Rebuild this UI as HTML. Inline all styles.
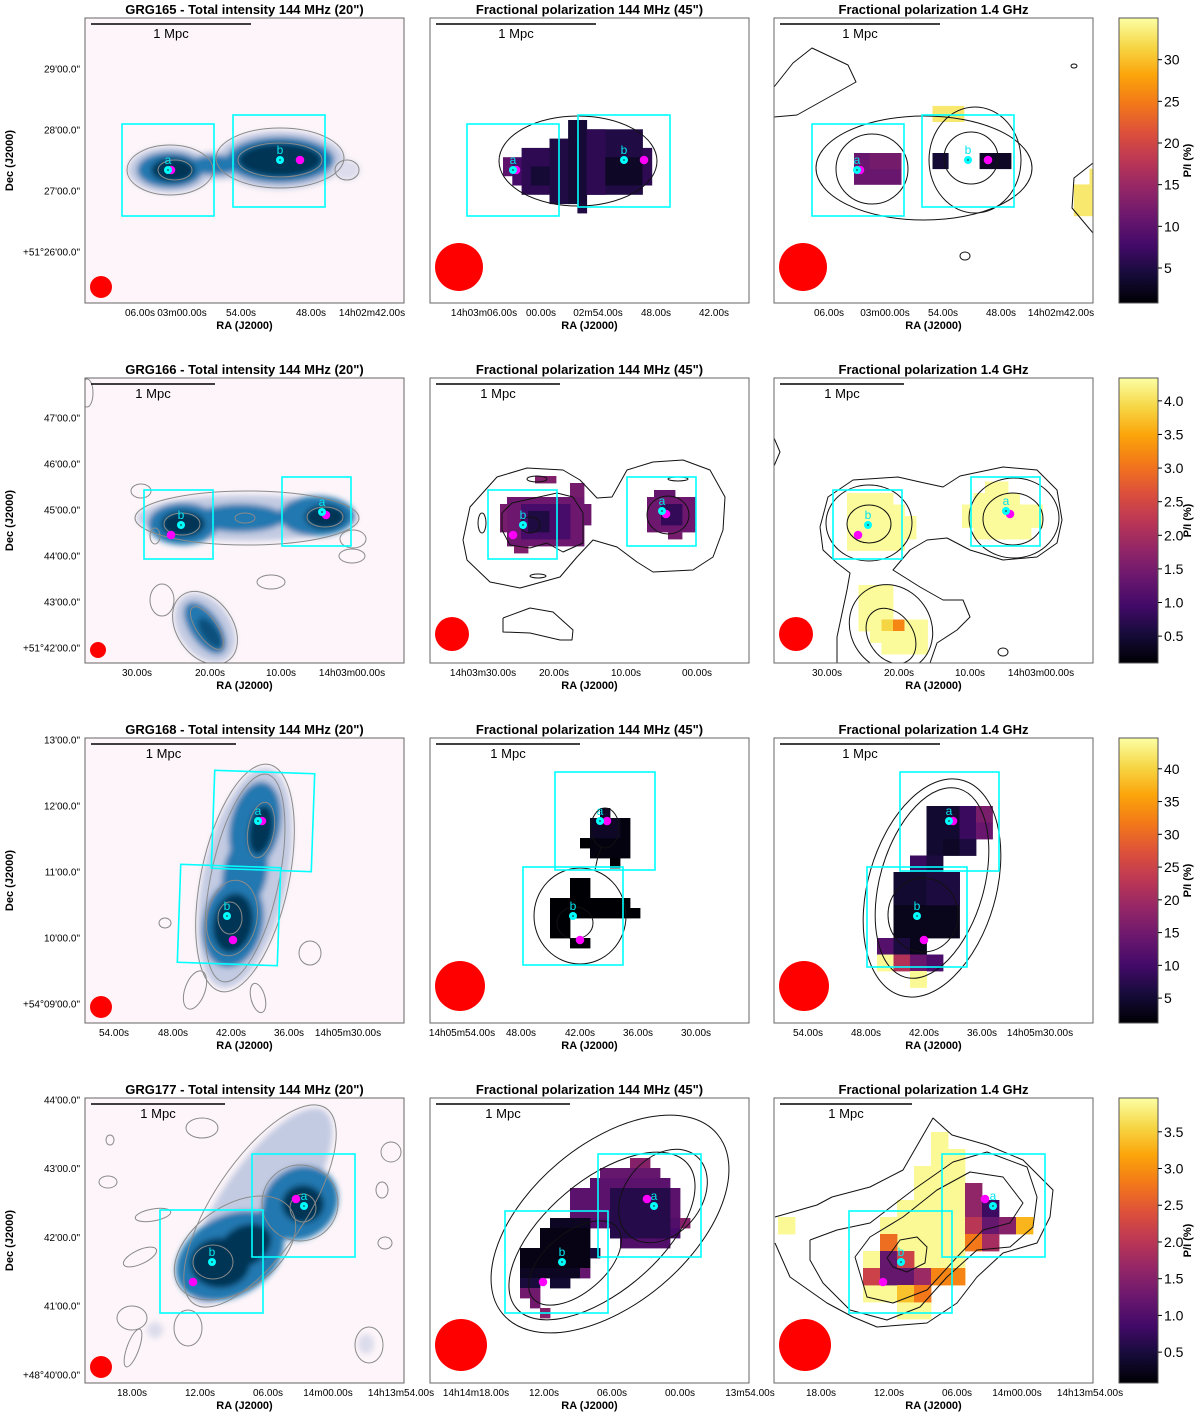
<!DOCTYPE html>
<html><head><meta charset="utf-8"><title>GRG polarization maps</title>
<style>
html,body{margin:0;padding:0;background:#fff;}
svg{display:block;font-family:"Liberation Sans","DejaVu Sans",sans-serif;}
</style></head>
<body>
<svg id="fig" xmlns="http://www.w3.org/2000/svg" width="1200" height="1417" viewBox="0 0 1200 1417">
<defs>
<filter id="blur" x="-30%" y="-30%" width="160%" height="160%"><feGaussianBlur stdDeviation="3"/></filter>
<linearGradient id="infernoGrad" x1="0" y1="1" x2="0" y2="0">
<stop offset="0" stop-color="#000004"/><stop offset="0.1" stop-color="#160b39"/><stop offset="0.2" stop-color="#420a68"/>
<stop offset="0.3" stop-color="#6a176e"/><stop offset="0.4" stop-color="#932667"/><stop offset="0.5" stop-color="#bc3754"/>
<stop offset="0.6" stop-color="#dd513a"/><stop offset="0.7" stop-color="#f37819"/><stop offset="0.8" stop-color="#fca50a"/>
<stop offset="0.9" stop-color="#f6d746"/><stop offset="1" stop-color="#fcffa4"/>
</linearGradient>
</defs>
</svg>
<script>
// ---------- data ----------
const galaxyNames = ['GRG165','GRG166','GRG168','GRG177'];
const panelTitles = ['Total intensity 144 MHz (20")','Fractional polarization 144 MHz (45")','Fractional polarization 1.4 GHz'];
const decLabels = [
  ['29\'00.0"','28\'00.0"','27\'00.0"','+51°26\'00.0"'],
  ['47\'00.0"','46\'00.0"','45\'00.0"','44\'00.0"','43\'00.0"','+51°42\'00.0"'],
  ['13\'00.0"','12\'00.0"','11\'00.0"','10\'00.0"','+54°09\'00.0"'],
  ['44\'00.0"','43\'00.0"','42\'00.0"','41\'00.0"','+48°40\'00.0"']
];
const raLabels = [
  [['06.00s','03m00.00s','54.00s','48.00s','14h02m42.00s'],['14h03m06.00s','00.00s','02m54.00s','48.00s','42.00s'],['06.00s','03m00.00s','54.00s','48.00s','14h02m42.00s']],
  [['30.00s','20.00s','10.00s','14h03m00.00s'],['14h03m30.00s','20.00s','10.00s','00.00s'],['30.00s','20.00s','10.00s','14h03m00.00s']],
  [['54.00s','48.00s','42.00s','36.00s','14h05m30.00s'],['14h05m54.00s','48.00s','42.00s','36.00s','30.00s'],['54.00s','48.00s','42.00s','36.00s','14h05m30.00s']],
  [['18.00s','12.00s','06.00s','14m00.00s','14h13m54.00s'],['14h14m18.00s','12.00s','06.00s','00.00s','13m54.00s'],['18.00s','12.00s','06.00s','14m00.00s','14h13m54.00s']]
];
const cbTicks = [[5,10,15,20,25,30],[0.5,1.0,1.5,2.0,2.5,3.0,3.5,4.0],[5,10,15,20,25,30,35,40],[0.5,1.0,1.5,2.0,2.5,3.0,3.5]];
const cbMin = [0.8,0.1,1.2,0.08];
const cbMax = [35.0,4.34,44.7,3.96];
// heatmap blocks: [col0,row0,col1,row1,value]
const heat_r1p2 = [[0,4,0,5,10],[1,4,1,6,8],[2,3,4,7,6],[5,2,6,8,5],[7,0,8,8,4],[8,9,8,9,5],[9,1,14,7,5],[9,1,10,7,6],[11,4,14,6,3],[15,3,15,6,6],[3,5,4,6,4]];
const heat_r1p3 = [[0,0,2,1,11],[1,0,2,0,12],[5,0,5,0,4],[8,0,9,0,3],[5,-3,6,-3,33],[15,1,15,3,33],[14,2,14,3,33]];
const heat_r2p2 = [[11,17,21,23,1.4],[10,18,10,21,1.5],[13,18,19,22,1.0],[14,19,16,21,0.6],[12,24,13,24,1.6],[20,15,21,16,1.5],[22,18,22,20,1.4],[15,14,17,14,1.6],[31,17,37,21,1.4],[33,18,35,20,0.8],[34,22,35,22,1.5],[32,16,34,16,1.3]];
const heat_r2p3 = [[6,10,9,14,4.3],[10,11,10,14,4.3],[11,12,11,13,4.3],[18,9,19,9,4.3],[17,10,20,10,4.3],[16,11,22,12,4.3],[17,13,21,13,4.3],[7,18,9,20,4.3],[7,21,8,21,4.3],[9,21,9,21,3.9],[10,21,10,21,3.2],[11,21,12,21,4.3],[8,22,12,22,4.3],[9,23,12,23,4.3]];
const heat_r3p2 = [[17,7,17,7,4],[16,8,19,11,2],[16,8,18,9,4],[15,10,15,10,1.3],[18,12,18,12,1.2],[14,14,15,15,1.2],[12,16,19,17,1.2],[20,17,20,17,1.2],[12,18,13,19,1.2],[14,20,15,20,1.2]];
const heat_r3p3 = [[9,4,10,5,5],[11,4,11,5,9],[12,4,12,4,16],[12,5,12,5,14],[9,6,9,6,5],[10,6,10,6,4],[11,6,11,6,6],[8,7,8,7,9],[9,7,9,7,6],[7,8,10,9,5],[7,10,10,11,3],[9,8,10,9,6],[6,12,6,12,12],[7,12,7,12,6],[8,12,8,12,3],[6,13,6,13,44],[7,13,7,13,22],[8,13,8,13,14],[9,13,9,13,11],[8,14,8,14,44]];
const heat_r4p2 = [[20,6,21,6,1.5],[17,7,22,7,1.2],[16,8,23,8,1.1],[14,9,24,11,1.1],[16,12,24,12,1.0],[25,12,25,12,1.5],[18,13,24,13,0.9],[19,14,23,14,1.0],[18,9,23,13,0.6],[12,12,15,12,0.3],[11,13,15,14,0.2],[9,15,15,16,0.2],[16,15,16,15,0.5],[9,17,14,17,0.3],[15,17,15,17,1.2],[9,18,10,18,0.5],[12,18,13,18,0.4],[9,19,10,19,1.3],[10,20,10,20,1.3],[11,21,11,21,1.5]];
const heat_r4p3 = [[9,2,9,2,3.9],[9,3,10,3,3.9],[8,4,10,5,3.9],[7,6,10,6,3.9],[6,7,10,8,3.9],[5,9,10,9,3.9],[5,10,10,10,3.9],[5,11,6,11,3.9],[7,12,8,12,3.9],[0,7,0,7,3.9],
  [11,5,11,6,1.6],[12,6,12,6,0.8],[11,7,11,7,2.0],[12,7,12,7,1.2],[13,7,13,7,1.5],[14,7,14,7,3.3],[11,8,11,8,2.8],[12,8,12,8,1.8],[6,8,6,8,2.7],[6,9,6,9,1.2],[7,9,7,9,2.2],[5,10,5,10,2.2],[6,10,7,10,1.2],[8,10,8,10,1.7],[9,10,10,10,2.9],[7,11,7,11,3.4],[8,11,8,11,2.8]];

// ---------- layout ----------
const rowY = [18,378,738,1098];
const panelX = [85,430,774];
const PW = 319, PH = 285;
const decY0 = [69,418,740,1100];
const decStep = [61,46,66,68.7];
const raX = [
  [[55,97,156,226,287],[54,111,168,226,284],[55,111,169,227,287]],
  [[52,125,196,267],[53,124,196,267],[53,125,196,267]],
  [[29,88,146,204,263],[32,91,150,208,266],[34,92,150,208,266]],
  [[47,115,183,243,316],[46,114,182,250,320],[47,115,183,243,316]]
];
const heatGrid = {r1p2:[73,102,9.3],r1p3:[80,135,15.7],r2p2:[0,0,7],r2p3:[4,0,11.5],r3p2:[0,0,10],r3p3:[4,2,16.5],r4p2:[0,0,10],r4p3:[4,0,17]};
const heatData = {r1p2:heat_r1p2,r1p3:heat_r1p3,r2p2:heat_r2p2,r2p3:heat_r2p3,r3p2:heat_r3p2,r3p3:heat_r3p3,r4p2:heat_r4p2,r4p3:heat_r4p3};

const blobs = [
 [[85,152,42,23,0,1],[130,148,32,14,0,1],[195,142,64,29,0,1],[262,152,13,10,0,0.5],[85,152,33,18,0,2],[130,147,26,10,0,2],[195,142,54,23,0,2],[88,152,22,12,0,3],[195,142,42,17,0,3]],
 [[162,140,110,23,0,1],[98,146,35,21,0,2],[155,140,45,14,0,2],[232,138,38,20,0,2],[98,146,22,13,0,3],[240,139,20,12,0,3],[120,250,38,26,55,1],[120,250,30,15,55,2],[125,255,18,8,55,2.5]],
 [[160,140,42,112,12,1],[170,88,25,45,12,2],[148,185,30,45,12,2],[160,135,22,40,12,2],[176,92,12,25,10,3],[148,185,20,30,10,3]],
 [[175,108,115,40,-56,1],[145,158,58,40,-30,2],[215,105,40,35,-40,2],[178,135,40,20,-40,2],[135,165,30,25,0,3],[218,106,21,19,0,3],[160,148,28,20,-30,3],[70,232,8,8,0,0.5],[281,246,8,10,0,0.5]]
];
const icont = [
 [[85,152,43,25,0],[90,152,17,10,0],[195,140,64,30,0],[195,142,42,17,0],[262,152,12,10,0]],
 [[162,140,112,27,0],[97,146,18,11,0],[240,139,18,10,0],[160,140,10,5,0],[120,250,40,28,55],[122,250,25,10,55],[77,222,12,16,0],[56,113,10,7,0],[268,161,13,9,0],[267,178,13,7,0],[186,204,14,7,0],[70,158,5,8,0],[2,15,6,14,0]],
 [[160,140,44,116,12],[160,140,34,106,12],[176,92,13,28,10],[147,180,25,38,10],[145,180,12,16,0],[80,185,6,5,0],[225,215,11,12,0],[110,252,10,20,20],[173,260,7,15,-15]],
 [[175,108,118,46,-56],[150,150,68,42,-35],[215,105,38,38,0],[128,164,20,17,0],[218,110,13,14,0],[117,30,16,10,0],[25,42,4,5,0],[23,84,9,6,0],[68,117,18,6,-10],[55,159,18,7,-25],[47,220,15,12,0],[103,230,14,18,0],[48,250,6,20,20],[306,54,10,10,0],[297,92,6,8,0],[300,145,7,6,0],[284,247,14,18,0]]
];
const pcontE = {
 r1p2:[[148,143,79,45,0]],
 r1p3:[[150,150,108,52,0],[98,151,36,35,0],[201,142,46,53,0],[197,140,27,26,0],[300,48,3,2,0],[191,238,5,4,0]],
 r2p2:[[238,137,21,19,0],[100,147,10,8,0],[107,101,10,3,0],[52,145,4,10,0],[108,198,8,2,0],[248,101,10,2,0]],
 r2p3:[[95,145,43,38,0],[95,146,22,19,0],[240,140,45,40,0],[239,141,30,26,0],[117,250,40,45,-35],[117,258,22,30,-35],[229,274,5,4,0]],
 r3p2:[[150,178,46,48,0],[145,185,18,16,0],[175,90,14,20,0]],
 r3p3:[[158,150,64,112,16],[158,145,52,98,16],[149,177,35,37,0]],
 r4p2:[[180,126,140,80,-40],[172,138,112,56,-40],[145,165,55,30,-40],[233,98,52,38,-50]],
 r4p3:[]
};
const pcontP = {
 r1p3:[[[0,99],[23,97],[82,64],[74,47],[38,30],[19,45],[0,69]],[[319,145],[300,160],[298,190],[319,215]]],
 r2p2:[[[33,162],[40,129],[67,99],[97,90],[133,92],[150,102],[167,120],[182,119],[197,92],[223,84],[253,82],[280,92],[295,119],[293,152],[283,179],[263,192],[223,194],[207,184],[187,169],[163,162],[147,179],[130,199],[90,210],[60,204],[37,182],[33,162]],
       [[72,135],[82,125],[127,115],[143,119],[153,135],[153,165],[133,174],[117,165],[100,170],[80,167],[72,152],[72,135]],
       [[73,240],[100,230],[123,234],[143,252],[142,262],[130,262],[100,255],[73,254],[73,240]]],
 r2p3:[[[46,149],[54,119],[79,102],[124,99],[146,104],[169,109],[186,98],[229,89],[263,92],[283,112],[288,142],[283,165],[263,179],[229,182],[196,172],[173,160],[153,162],[136,172],[119,192],[146,209],[169,222],[189,222],[196,239],[183,252],[163,265],[156,285]],
       [[63,285],[63,259],[73,212],[76,195],[63,185],[49,172],[46,149]],[[0,60],[6,74],[0,88]]],
 r3p2:[[[165,132],[168,118],[172,108]]],
 r4p3:[[[1,119],[43,107],[58,99],[96,89],[129,72],[159,20],[178,37],[213,47],[249,62],[279,92],[276,119],[263,145],[229,155],[203,179],[183,205],[153,225],[103,229],[79,219],[53,205],[16,179],[1,145]],
       [[36,142],[63,132],[96,125],[139,92],[179,64],[213,54],[253,69],[263,99],[259,129],[236,149],[203,152],[173,179],[146,209],[113,222],[76,212],[49,185],[36,162],[36,142]],
       [[81,159],[96,139],[129,119],[163,92],[196,74],[229,79],[249,105],[236,125],[209,132],[183,159],[153,192],[119,205],[93,199],[81,159]],
       [[113,160],[126,142],[143,139],[153,149],[151,165],[133,174],[119,169],[113,160]]]
};
const boxes = [
 [[[37,106,92,92,0],[148,97,92,92,0]],[[37,106,92,92,0],[148,97,92,92,0]],[[38,106,92,92,0],[148,97,92,92,0]]],
 [[[59,112,69,69,0],[197,99,69,69,0]],[[58,112,69,69,0],[197,99,69,69,0]],[[59,112,69,69,0],[197,99,69,69,0]]],
 [[[128,34,100,98,2],[94,128,100,98,2]],[[125,34,100,98,0],[93,129,100,98,0]],[[126,34,99,99,0],[93,129,100,100,0]]],
 [[[75,112,103,103,0],[167,56,103,103,0]],[[75,113,103,102,0],[168,56,103,103,0]],[[75,113,103,102,0],[168,56,103,103,0]]]
];
const sources = [
 [[['a',83,152,86,152],['b',195,142,215,142]],[['a',83,152,86,152],['b',194,142,214,142]],[['a',83,152,86,152],['b',194,142,214,142]]],
 [[['b',96,147,86,157],['a',237,134,241,137]],[['b',93,147,83,157],['a',232,133,236,136]],[['b',94,147,84,157],['a',232,133,236,136]]],
 [[['a',173,83,177,83],['b',142,178,148,202]],[['a',170,83,177,83],['b',143,178,150,202]],[['a',175,83,179,83],['b',143,178,150,202]]],
 [[['b',127,164,108,184],['a',219,108,211,101]],[['b',132,164,113,184],['a',224,108,217,101]],[['b',127,164,109,184],['a',219,108,211,101]]]
];
const scaleLen = [[160,160,160],[124,124,124],[145,144,160],[134,134,132]];
const beamR = [[11,24,24],[8,17,17],[11,25,25],[11,26,26]];

// ---------- drawing ----------
const NS = 'http://www.w3.org/2000/svg';
const svg = document.getElementById('fig');
function mk(tag, parent){ const e=document.createElementNS(NS,tag); parent.appendChild(e); return e; }
function sa(e,o){ for(const k in o) e.setAttribute(k,o[k]); return e; }
const infStops=['#000004','#160b39','#420a68','#6a176e','#932667','#bc3754','#dd513a','#f37819','#fca50a','#f6d746','#fcffa4'];
function hex(c){return [parseInt(c.substr(1,2),16),parseInt(c.substr(3,2),16),parseInt(c.substr(5,2),16)];}
function inferno(t){ t=Math.max(0,Math.min(1,t)); const f=t*10, i=Math.min(9,Math.floor(f)), u=f-i;
  const a=hex(infStops[i]), b=hex(infStops[i+1]);
  return 'rgb('+a.map((v,k)=>Math.round(v+(b[k]-v)*u)).join(',')+')'; }
function blobColor(l){ return l>=3?'#043657':l>=2.5?'#0c4f7c':l>=2?'#2278b0':l>=1.5?'#7aa8cf':l>=1?'#c3cbe2':'#dcdcec'; }

for(let r=0;r<4;r++){
  const y0=rowY[r];
  decLabels[r].forEach((t,i)=>{
    const tx=mk('text',svg); sa(tx,{x:80,y:decY0[r]+i*decStep[r]+3.5,'font-size':10,'text-anchor':'end',fill:'#000'});
    
    
    tx.textContent=t;
  });
  const dl=mk('text',svg); sa(dl,{x:0,y:0,'font-size':11,'font-weight':'bold','text-anchor':'middle',transform:'translate(13,'+(y0+PH/2)+') rotate(-90)'});
  
  
  dl.textContent='Dec (J2000)';

  for(let p=0;p<3;p++){
    const x0=panelX[p];
    const g=mk('g',svg); sa(g,{transform:'translate('+x0+','+y0+')'});
    
    
    const cpId='cp'+r+p;
    const cp=mk('clipPath',g); sa(cp,{id:cpId}); const cr=mk('rect',cp); sa(cr,{x:0,y:0,width:PW,height:PH});
    const bg=mk('rect',g); sa(bg,{x:0,y:0,width:PW,height:PH,fill:p===0?'#fdf5f9':'#ffffff'});
    const inner=mk('g',g); sa(inner,{'clip-path':'url(#'+cpId+')'});
    if(p===0){
      const bgp=mk('g',inner); sa(bgp,{filter:'url(#blur)'});
      blobs[r].forEach(b=>{
        const e=mk('ellipse',bgp); sa(e,{cx:b[0],cy:b[1],rx:b[2],ry:b[3],transform:'rotate('+b[4]+' '+b[0]+' '+b[1]+')',fill:blobColor(b[5])});
        
        
      });
      icont[r].forEach(c=>{
        const e=mk('ellipse',inner); sa(e,{cx:c[0],cy:c[1],rx:c[2],ry:c[3],transform:'rotate('+c[4]+' '+c[0]+' '+c[1]+')',fill:'none',stroke:'#8a8a8a','stroke-width':1});
        
        
      });
    } else {
      const key='r'+(r+1)+'p'+(p+1);
      const gr=heatGrid[key], hd=heatData[key];
      const mn=cbMin[r], mx=cbMax[r];
      hd.forEach(b=>{
        const rc=mk('rect',inner); sa(rc,{x:gr[0]+b[0]*gr[2],y:gr[1]+b[1]*gr[2],width:(b[2]-b[0]+1)*gr[2]+0.4,height:(b[3]-b[1]+1)*gr[2]+0.4,fill:inferno((b[4]-mn)/(mx-mn))});
        
        
      });
      (pcontE[key]||[]).forEach(c=>{
        const e=mk('ellipse',inner); sa(e,{cx:c[0],cy:c[1],rx:c[2],ry:c[3],transform:'rotate('+c[4]+' '+c[0]+' '+c[1]+')',fill:'none',stroke:'#111','stroke-width':1});
        
        
      });
      (pcontP[key]||[]).forEach(pl=>{
        const e=mk('polyline',inner); sa(e,{points:pl.map(q=>q.join(',')).join(' '),fill:'none',stroke:'#111','stroke-width':1,'stroke-linejoin':'round'});
        
        
      });
    }
    boxes[r][p].forEach(b=>{
      const e=mk('rect',inner); sa(e,{x:b[0],y:b[1],width:b[2],height:b[3],transform:'rotate('+b[4]+' '+(b[0]+b[2]/2)+' '+(b[1]+b[3]/2)+')',fill:'none',stroke:'#00ffff','stroke-width':1.6});
      
      
    });
    sources[r][p].forEach(s=>{
      const m=mk('circle',inner); sa(m,{cx:s[3],cy:s[4],r:4.3,fill:'#ff00ff'});
      
      
      const c=mk('circle',inner); sa(c,{cx:s[1],cy:s[2],r:4,fill:'#00ffff'});
      
      
      const d=mk('circle',inner); sa(d,{cx:s[1],cy:s[2],r:1,fill:'#1a6a6a'});
      const t=mk('text',inner); sa(t,{x:s[1],y:s[2]-6,'font-size':12,'text-anchor':'middle',fill:'#00e5ee'});
      
      
      t.textContent=s[0];
    });
    const sb=mk('line',g); sa(sb,{x1:6,y1:6,x2:6+scaleLen[r][p],y2:6,stroke:'#000','stroke-width':1.5});
    
    
    const st=mk('text',g); sa(st,{x:6+scaleLen[r][p]/2,y:20,'font-size':13,'text-anchor':'middle'});
    
    
    st.textContent='1 Mpc';
    const br=beamR[r][p];
    const bm=mk('circle',g); sa(bm,{cx:br+5,cy:PH-br-(p===0?5:12),r:br,fill:'#ff0000'});
    
    
    const fr=mk('rect',g); sa(fr,{x:0,y:0,width:PW,height:PH,fill:'none',stroke:'#666','stroke-width':1});
    
    
    const tt=mk('text',svg); sa(tt,{x:x0+PW/2,y:y0-4,'font-size':13,'font-weight':'bold','text-anchor':'middle'});
    
    
    tt.textContent=(p===0?galaxyNames[r]+' - ':'')+panelTitles[p];
    raLabels[r][p].forEach((t,i)=>{
      const tx=mk('text',svg); sa(tx,{x:x0+raX[r][p][i],y:y0+PH+13,'font-size':10,'text-anchor':'middle'});
      
      
      tx.textContent=t;
    });
    const ra=mk('text',svg); sa(ra,{x:x0+PW/2,y:y0+PH+26,'font-size':11,'font-weight':'bold','text-anchor':'middle'});
    
    
    ra.textContent='RA (J2000)';
  }
  const cbx=1119, cbw=39;
  const cb=mk('rect',svg); sa(cb,{x:cbx,y:y0,width:cbw,height:PH,fill:'url(#infernoGrad)',stroke:'#555','stroke-width':1});
  
  
  const yv=v=>y0+PH-(v-cbMin[r])/(cbMax[r]-cbMin[r])*PH;
  cbTicks[r].forEach(v=>{
    const ty=yv(v);
    const tl=mk('line',svg); sa(tl,{x1:cbx+cbw,y1:ty,x2:cbx+cbw+4,y2:ty,stroke:'#000','stroke-width':1});
    const tx=mk('text',svg); sa(tx,{x:cbx+cbw+6,y:ty+5,'font-size':14});
    
    
    tx.textContent=(cbTicks[r][0]<1)?v.toFixed(1):String(v);
  });
  const cl=mk('text',svg); sa(cl,{x:0,y:0,'font-size':11,'font-weight':'bold','text-anchor':'middle',transform:'translate(1191,'+(y0+PH/2)+') rotate(-90)'});
  
  
  cl.textContent='P/I (%)';
}
</script>
</body></html>
